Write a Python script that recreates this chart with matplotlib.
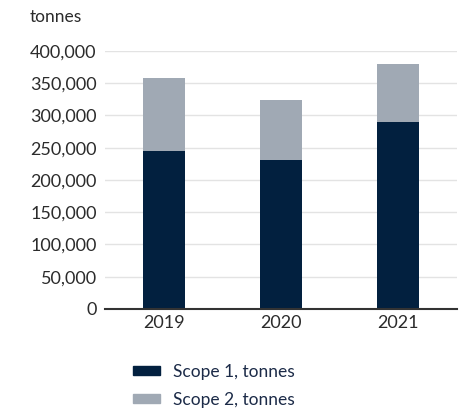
import matplotlib.pyplot as plt
from matplotlib.patches import Patch
from matplotlib.ticker import FuncFormatter

plt.rcParams['font.family'] = ['Lato', 'DejaVu Sans']

years = ["2019", "2020", "2021"]
scope1 = [245000, 231000, 290000]
scope2 = [113000, 93000, 90000]
yticks = [0, 50000, 100000, 150000, 200000, 250000, 300000, 350000, 400000]

navy = "#02203f"
grey = "#a0a9b4"

fig = plt.figure(figsize=(4.7, 4.11), dpi=100)
ax = fig.add_axes([0.2234, 0.2482, 0.7489, 0.628])

x = range(len(years))
ax.bar(x, scope1, width=0.36, color=navy, zorder=3)
ax.bar(x, scope2, width=0.36, bottom=scope1, color=grey, zorder=3)

ax.set_xlim(-0.5, 2.5)
ax.set_ylim(0, 400000)
ax.set_yticks(yticks)
ax.yaxis.set_major_formatter(FuncFormatter(lambda v, p: f"{int(v):,}"))
ax.set_xticks(list(x))
ax.set_xticklabels(years)
ax.tick_params(length=0, labelsize=13, colors="#2b2b2b", pad=6)
ax.tick_params(axis="x", pad=4)
ax.grid(axis="y", color="#e3e3e3", linewidth=1, zorder=0)
ax.set_axisbelow(True)
for s in ["top", "right", "left"]:
    ax.spines[s].set_visible(False)
ax.spines["bottom"].set_color("#333333")
ax.spines["bottom"].set_linewidth(1.5)
ax.spines["bottom"].set_zorder(4)

fig.text(30 / 470, 1 - 17 / 411, "tonnes", fontsize=12.5, color="#2b2b2b", va="center")

handles = [Patch(color=navy, label="Scope 1, tonnes"),
           Patch(color=grey, label="Scope 2, tonnes")]
leg = fig.legend(handles=handles, loc="upper left", bbox_to_anchor=(118 / 470, 1 - 349 / 411),
                 frameon=False, fontsize=12.5, handlelength=1.55, handleheight=0.45,
                 labelspacing=0.7, handletextpad=0.75, borderpad=0.35)
for t in leg.get_texts():
    t.set_color("#1c2b48")

fig.savefig("out.png", dpi=100)
